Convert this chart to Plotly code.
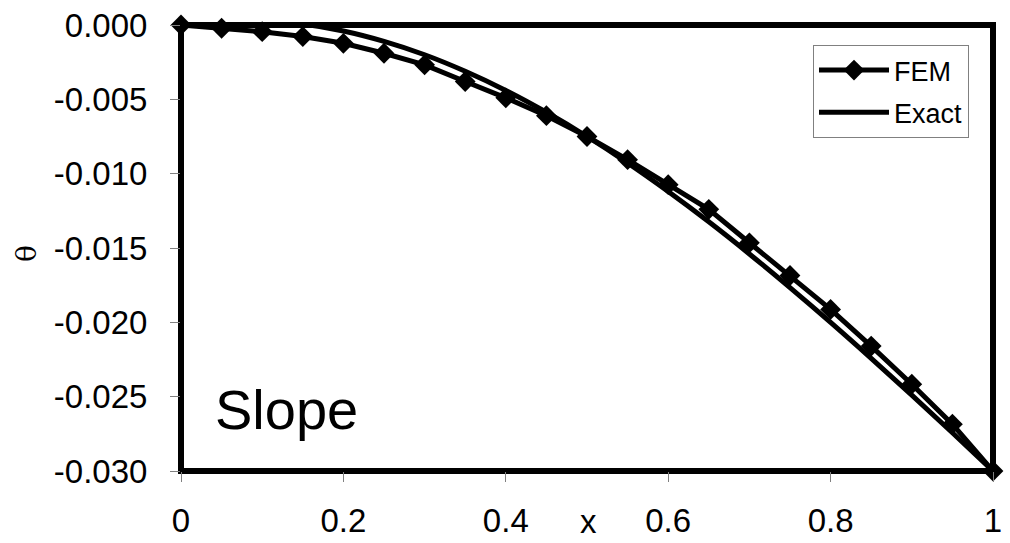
import plotly.graph_objects as go

# Nodal positions along the beam
x_nodes = [0.00, 0.05, 0.10, 0.15, 0.20, 0.25, 0.30, 0.35, 0.40, 0.45, 0.50,
           0.55, 0.60, 0.65, 0.70, 0.75, 0.80, 0.85, 0.90, 0.95, 1.00]

# Finite-element slope at the nodes
theta_fem = [0.0, -0.00022, -0.00045, -0.00078, -0.00123, -0.0019, -0.00268,
             -0.0038, -0.0049, -0.0061, -0.0075, -0.00906, -0.01074, -0.0124,
             -0.01465, -0.01685, -0.01913, -0.0216, -0.02416, -0.02685, -0.0300]

# Exact slope sampled at the same positions
theta_exact = [0.0, 0.00028, 0.0003, 0.00007, -0.0004, -0.0011, -0.0020,
               -0.00311, -0.0044, -0.00587, -0.0075, -0.00928, -0.0112, -0.01324,
               -0.0154, -0.01766, -0.0200, -0.02242, -0.0249, -0.02743, -0.0300]

x_ticks = [0, 0.2, 0.4, 0.6, 0.8, 1.0]
x_tick_text = ["0", "0.2", "0.4", "0.6", "0.8", "1"]
y_ticks = [0.0, -0.005, -0.010, -0.015, -0.020, -0.025, -0.030]
y_tick_text = ["0.000", "-0.005", "-0.010", "-0.015", "-0.020", "-0.025", "-0.030"]

FONT = "Liberation Sans, Arial, sans-serif"

fig = go.Figure()
fig.add_trace(go.Scatter(
    x=x_nodes, y=theta_fem, name="FEM", mode="lines+markers",
    line=dict(color="black", width=5),
    marker=dict(symbol="diamond", size=16, color="black"),
    cliponaxis=False, legendgroup="a",
))
fig.add_trace(go.Scatter(
    x=x_nodes, y=theta_exact, name="Exact", mode="lines",
    line=dict(color="black", width=5, shape="spline", smoothing=1.0),
    cliponaxis=False, legendgroup="b",
))

axis_common = dict(
    showgrid=False, zeroline=False, showline=False, automargin=False,
    ticks="outside", ticklen=10, tickwidth=1, tickcolor="#808080",
    tickfont=dict(family=FONT, size=33, color="black"),
)
fig.update_xaxes(range=[0, 1], tickvals=x_ticks, ticktext=x_tick_text,
                 ticklabelstandoff=10, **axis_common)
fig.update_yaxes(range=[-0.030, 0.0], tickvals=y_ticks, ticktext=y_tick_text,
                 ticklabelstandoff=16, **axis_common)

# Heavy frame around the plotting area
fig.add_shape(type="rect", xref="paper", yref="paper", x0=0, y0=0, x1=1, y1=1,
              line=dict(color="black", width=6), layer="below")

fig.add_annotation(text="Slope", xref="paper", yref="paper", x=0.04, y=(471 - 409) / 446,
                   xanchor="left", yanchor="middle", showarrow=False,
                   font=dict(family=FONT, size=56, color="black"))
fig.add_annotation(text="x", xref="paper", yref="paper", x=(588 - 181) / 812, y=-(521 - 471) / 446,
                   xanchor="center", yanchor="middle", showarrow=False,
                   font=dict(family=FONT, size=33, color="black"))
fig.add_annotation(text="θ", xref="paper", yref="paper", x=(26 - 181) / 812, y=(471 - 254) / 446,
                   xanchor="center", yanchor="middle", showarrow=False, textangle=-90,
                   font=dict(family="DejaVu Serif, serif", size=28, color="black"))

fig.update_layout(
    width=1010, height=543,
    margin=dict(l=181, r=17, t=25, b=72, pad=0),
    paper_bgcolor="white", plot_bgcolor="white",
    showlegend=True,
    legend=dict(x=(813 - 181) / 812, y=(471 - 45) / 446, xanchor="left", yanchor="top",
                bgcolor="white", bordercolor="#808080", borderwidth=1,
                font=dict(family=FONT, size=27, color="black"),
                itemwidth=70,
                traceorder="grouped", tracegroupgap=4),
)

fig.write_html("out.html")
